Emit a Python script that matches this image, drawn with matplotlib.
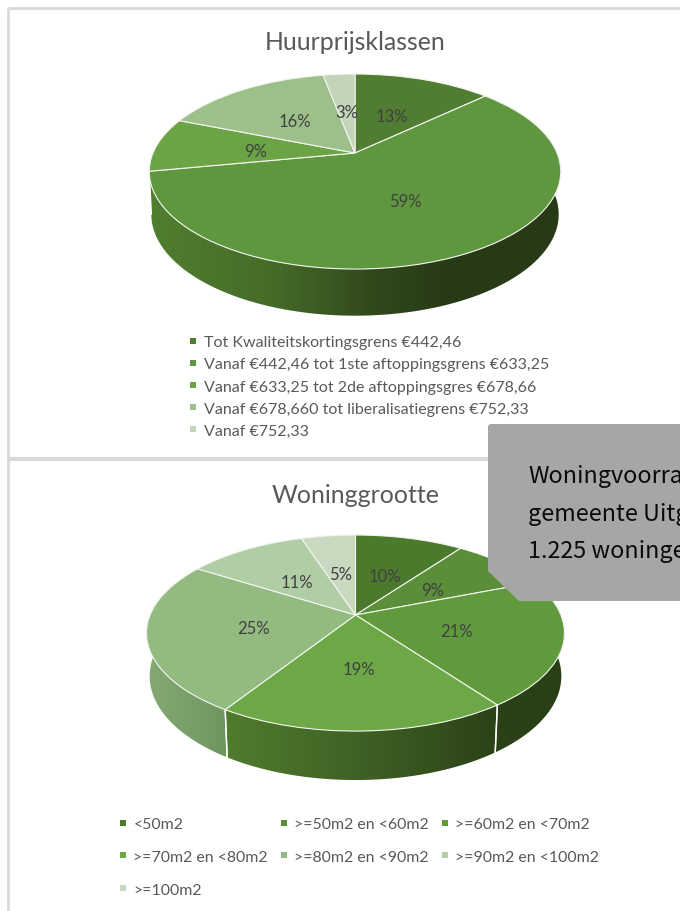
import numpy as np
import matplotlib
matplotlib.use("Agg")
import matplotlib.pyplot as plt
from matplotlib.transforms import Transform
from matplotlib.path import Path
from matplotlib.patches import Polygon
from matplotlib.lines import Line2D
from matplotlib.colors import LinearSegmentedColormap

# ---------- data ----------
rent_title = "Huurprijsklassen"
rent_values = [13, 59, 9, 16, 3]
rent_labels = ["Tot Kwaliteitskortingsgrens €442,46",
               "Vanaf €442,46 tot 1ste aftoppingsgrens €633,25",
               "Vanaf €633,25 tot 2de aftoppingsgres €678,66",
               "Vanaf €678,660 tot liberalisatiegrens €752,33",
               "Vanaf €752,33"]
rent_colors = ["#507D32", "#5F973E", "#6AA444", "#9DC08B", "#C2D5B9"]

size_title = "Woninggrootte"
size_values = [10, 9, 21, 19, 25, 11, 5]
size_labels = ["<50m2", ">=50m2 en <60m2", ">=60m2 en <70m2", ">=70m2 en <80m2",
               ">=80m2 en <90m2", ">=90m2 en <100m2", ">=100m2"]
size_colors = ["#4B7A2C", "#5A8E38", "#619A3D", "#6CA845", "#93BB80", "#B1CDA5", "#C9D9C0"]

# only what the picture shows: the note runs off the right edge
box_lines = ["Woningvoorra", "gemeente Uitg", "1.225 woninge"]

# ---------- styles ----------
BORDER = "#D9D9D9"
GREY = "#595959"
LABEL = "#404040"
W, H = 680, 912
plt.rcParams["font.family"] = ["Lato", "DejaVu Sans"]


class Perspective(Transform):
    """Projects the unit pie disc onto a tilted disc in pixel coordinates."""
    input_dims = output_dims = 2

    def __init__(self, cx, cy, A, B, k, sx=1.0, sy=1.0, drop=0.0):
        super().__init__()
        self.p = (cx, cy, A, B, k, sx, sy, drop)

    def transform_non_affine(self, xy):
        cx, cy, A, B, k, sx, sy, drop = self.p
        xy = np.asarray(xy, float)
        w = 1 + k * xy[:, 1]
        X = sx * A * xy[:, 0] / w
        Y = sy * B * xy[:, 1] / w
        return np.column_stack([cx + X, cy - Y + drop])

    def transform_path_non_affine(self, path):
        return Path(self.transform_non_affine(path.vertices), path.codes)

    is_affine = False


fig = plt.figure(figsize=(W / 100, H / 100), dpi=100, facecolor="white")
ax = fig.add_axes([0, 0, 1, 1])


def ring(t):
    return np.column_stack([np.sin(t), np.cos(t)])


def draw_pie(values, colors, top, low, rims):
    wedges, _ = ax.pie(values, colors=colors, startangle=90, counterclock=False,
                       wedgeprops=dict(edgecolor="#F2F5EF", linewidth=0.8, zorder=3))
    for w in wedges:
        w.set_transform(top + ax.transData)
    edges = np.cumsum([0] + list(values)) / sum(values) * 2 * np.pi
    # side wall, one gradient piece per slice that shows in front
    for i, stops in rims.items():
        t = np.linspace(edges[i], edges[i + 1], 120)
        upper = top.transform_non_affine(ring(t))
        lower = low.transform_non_affine(ring(t))
        poly = Polygon(np.vstack([upper, lower[::-1]]), closed=True, transform=ax.transData,
                       facecolor="none", edgecolor="none")
        ax.add_patch(poly)
        both = np.vstack([upper, lower])
        x0, x1 = both[:, 0].min(), both[:, 0].max()
        y0, y1 = both[:, 1].min(), both[:, 1].max()
        cmap = LinearSegmentedColormap.from_list("rim", stops)
        im = ax.imshow(np.linspace(0, 1, 256)[None, :], cmap=cmap, aspect="auto",
                       extent=(x0, x1, y1, y0), zorder=1, interpolation="bilinear")
        im.set_clip_path(poly)
    # white seams on the wall
    for i in rims:
        for e in (edges[i], edges[i + 1]):
            if np.cos(e) < -0.1:
                a = top.transform_non_affine(ring(np.array([e])))[0]
                b = low.transform_non_affine(ring(np.array([e])))[0]
                ax.plot([a[0], b[0]], [a[1], b[1]], color="white", lw=1.0, zorder=2)
    # percentage labels halfway along each slice
    mids = (edges[:-1] + edges[1:]) / 2
    pos = top.transform_non_affine(0.5 * ring(mids))
    for v, (x, y) in zip(values, pos):
        ax.text(x, y + 2.2, f"{v}%", ha="center", va="center", fontsize=12, color=LABEL, zorder=4)


top1 = Perspective(355, 154, 202, 94, 0.19)
low1 = Perspective(355, 154, 202, 94, 0.19, sx=0.99, sy=1.04, drop=42)
draw_pie(rent_values, rent_colors, top1, low1,
         {1: [(0.0, "#517E30"), (0.30, "#466B28"), (0.55, "#30481B"), (0.72, "#273B16"), (1.0, "#263A16")]})

top2 = Perspective(355.5, 616, 205.4, 94.7, 0.184)
low2 = Perspective(355.5, 616, 205.4, 94.7, 0.184, sx=0.985, sy=1.06, drop=42)
draw_pie(size_values, size_colors, top2, low2,
         {2: ["#2B4217", "#293F15"],
          3: ["#507C2E", "#3F6024", "#2B4217"],
          4: ["#86A974", "#6F955F"]})

ax.set_aspect("auto")
ax.set_xlim(0, W)
ax.set_ylim(H, 0)
ax.axis("off")

# panel frame
ax.plot([8, 8], [9, H], color=BORDER, lw=2.0, solid_capstyle="butt", zorder=1)
ax.plot([8, W], [9, 9], color=BORDER, lw=2.0, solid_capstyle="butt", zorder=1)
ax.plot([8, W], [460, 460], color=BORDER, lw=3.0, solid_capstyle="butt", zorder=1)

# titles
ax.text(355.5, 42, rent_title, ha="center", va="center", fontsize=17.9, color=GREY, zorder=4)
ax.text(355.5, 496, size_title, ha="center", va="center", fontsize=18, color=GREY, zorder=4)


def marks(colors):
    return [Line2D([], [], ls="", marker="s", ms=4.6, mew=0, color=c) for c in colors]


leg1 = ax.legend(marks(rent_colors), rent_labels, loc="upper left", bbox_to_anchor=(186, 336),
                 bbox_transform=ax.transData, frameon=False, borderpad=0, borderaxespad=0,
                 fontsize=11.5, labelcolor=GREY, handlelength=0.9, handletextpad=0.2,
                 labelspacing=0.5)
ax.add_artist(leg1)

order = [0, 3, 6, 1, 4, 2, 5]
leg2 = ax.legend(marks([size_colors[i] for i in order]), [size_labels[i] for i in order],
                 ncols=3, loc="upper left", bbox_to_anchor=(116, 818), bbox_transform=ax.transData,
                 frameon=False, borderpad=0, borderaxespad=0, fontsize=11.4, labelcolor=GREY,
                 handlelength=0.9, handletextpad=0.2, labelspacing=1.18, columnspacing=0.56)

# overlapping grey note, cut off by the picture edge
ax.add_patch(Polygon([(490, 425), (W + 5, 425), (W + 5, 602), (519, 602), (488, 572), (488, 427)],
                     closed=True, facecolor="#A6A6A6", edgecolor="none", zorder=6))
for line, y in zip(box_lines, [477, 515, 552]):
    ax.text(528, y, line, ha="left", va="center", fontsize=16.8, color="#0A0A0A", zorder=7,
            family=["Noto Sans CJK SC", "DejaVu Sans"], clip_on=True)

fig.savefig("out.png", dpi=100, facecolor="white")
